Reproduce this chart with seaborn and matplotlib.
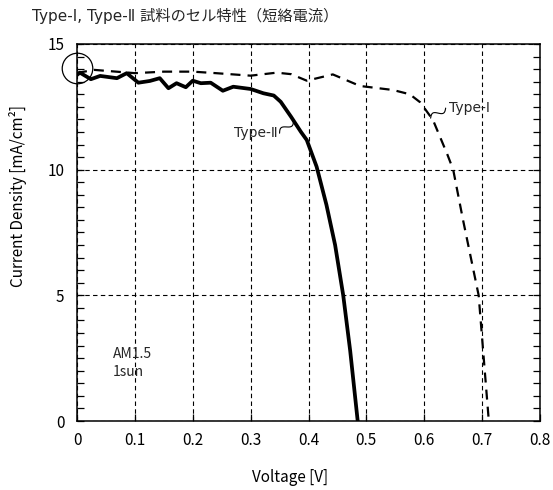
import numpy as np
import pandas as pd
import matplotlib
matplotlib.use("Agg")
import matplotlib.pyplot as plt
import seaborn as sns
from matplotlib.ticker import MultipleLocator

# I-V characteristics (short-circuit current) of the two samples
v_type1 = [0.0, 0.03, 0.10, 0.15, 0.20, 0.24, 0.30, 0.345, 0.37, 0.397, 0.442,
           0.489, 0.546, 0.575, 0.593, 0.615, 0.64, 0.65, 0.667, 0.694, 0.711]
j_type1 = [13.85, 13.97, 13.84, 13.90, 13.90, 13.84, 13.74, 13.86, 13.80, 13.54, 13.79,
           13.33, 13.17, 13.00, 12.68, 11.98, 10.60, 10.00, 8.00, 5.00, 0.16]

v_type2 = [0.0, 0.005, 0.024, 0.04, 0.069, 0.086, 0.106, 0.126, 0.143, 0.158, 0.172,
           0.188, 0.20, 0.214, 0.231, 0.252, 0.27, 0.30, 0.322, 0.34, 0.352, 0.37,
           0.387, 0.397, 0.414, 0.431, 0.446, 0.46, 0.472, 0.485]
j_type2 = [13.77, 13.86, 13.60, 13.73, 13.64, 13.84, 13.46, 13.53, 13.64, 13.24, 13.44,
           13.28, 13.54, 13.44, 13.46, 13.14, 13.30, 13.21, 13.04, 12.95, 12.70, 12.10,
           11.50, 11.18, 10.12, 8.60, 7.00, 5.00, 2.80, 0.00]

x_ticks = [0, 0.1, 0.2, 0.3, 0.4, 0.5, 0.6, 0.7, 0.8]
x_tick_labels = ["0", "0.1", "0.2", "0.3", "0.4", "0.5", "0.6", "0.7", "0.8"]
y_ticks = [0, 5, 10, 15]

sns.set_theme(style="ticks")
plt.rcParams["font.family"] = ["Noto Sans CJK JP", "DejaVu Sans"]
LATIN_FIRST = ["DejaVu Sans", "Noto Sans CJK JP"]

W, H = 553, 490
fig = plt.figure(figsize=(W / 100, H / 100), dpi=100)
ax = fig.add_axes([77 / W, 1 - 421 / H, (540 - 77) / W, (421 - 44) / H])

df1 = pd.DataFrame({"V": v_type1, "J": j_type1})
df2 = pd.DataFrame({"V": v_type2, "J": j_type2})

sns.lineplot(data=df1, x="V", y="J", ax=ax, color="black", lw=1.6,
             linestyle=(0, (4.5, 3.2)), estimator=None, sort=False, zorder=3)
sns.lineplot(data=df2, x="V", y="J", ax=ax, color="black", lw=2.7,
             estimator=None, sort=False, zorder=3)

ax.set_xlim(0, 0.8)
ax.set_ylim(0, 15)
ax.set_xticks(x_ticks)
ax.set_xticklabels(x_tick_labels)
ax.set_yticks(y_ticks)
ax.yaxis.set_minor_locator(MultipleLocator(0.5))
ax.tick_params(axis="both", which="both", direction="in", colors="black",
               labelsize=11, width=0.9)
ax.tick_params(axis="x", which="major", length=5, pad=8)
ax.tick_params(axis="y", which="major", length=5, pad=9, right=True)
ax.tick_params(axis="y", which="minor", length=5, width=0.9, right=True, left=True)

for s in ax.spines.values():
    s.set_color("black")
    s.set_linewidth(1.1)

ax.grid(True, which="major", color="black", lw=0.8, linestyle=(0, (4, 3)))

ax.set_xlabel("Voltage [V]", fontsize=11, color="black")
ax.xaxis.set_label_coords(0.46, -0.128)
ax.set_ylabel("Current Density [mA/cm²]", fontsize=11, color="black")
ax.yaxis.set_label_coords(-0.108, 0.597)

# Illumination conditions
ax.text(0.062, 2.65, "AM1.5", fontsize=10, va="center", ha="left")
ax.text(0.062, 1.95, "1sun", fontsize=10, va="center", ha="left")

# Circle marking the initial region
ax.plot([0.0], [14.03], marker="o", markersize=22, markerfacecolor="none",
        markeredgecolor="black", markeredgewidth=0.9, clip_on=False, zorder=4)


def squiggle(a, b, amp=3.0):
    """Draw a small S-shaped leader between two data points."""
    pa = ax.transData.transform(a)
    pb = ax.transData.transform(b)
    d = pb - pa
    n = np.array([-d[1], d[0]]) / np.hypot(*d)
    t = np.linspace(0, 1, 40)
    pts = pa[None, :] + t[:, None] * d[None, :] + (amp * np.sin(2 * np.pi * t))[:, None] * n[None, :]
    data = ax.transData.inverted().transform(pts)
    ax.plot(data[:, 0], data[:, 1], color="black", lw=0.8, zorder=4)


ax.text(0.347, 11.45, "Type-Ⅱ", fontsize=10, ha="right", va="center",
        family=LATIN_FIRST)
squiggle((0.35, 11.45), (0.374, 11.95))

ax.text(0.642, 12.45, "Type-Ⅰ", fontsize=10, ha="left", va="center",
        family=LATIN_FIRST)
squiggle((0.637, 12.45), (0.611, 12.05))

fig.text(32 / W, 1 - 16 / H, "Type-Ⅰ, Type-Ⅱ 試料のセル特性（短絡電流）",
         fontsize=11, ha="left", va="center", family=LATIN_FIRST)

fig.savefig("out.png", dpi=100, facecolor="white")
